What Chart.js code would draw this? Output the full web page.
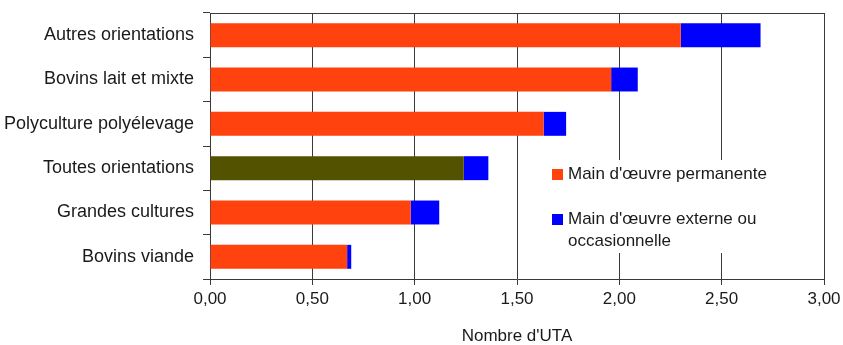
<!DOCTYPE html>
<html>
<head>
<meta charset="utf-8">
<script src="https://cdn.jsdelivr.net/npm/chart.js@4/dist/chart.umd.min.js"></script>
<style>
html,body{margin:0;padding:0;background:#fff;}
#wrap{width:843px;height:345px;}
</style>
</head>
<body>
<div id="wrap"><canvas id="c" width="843" height="345"></canvas></div>
<script>
const categories = ["Autres orientations", "Bovins lait et mixte", "Polyculture polyélevage", "Toutes orientations", "Grandes cultures", "Bovins viande"];
const permanente = [2.30, 1.96, 1.63, 1.24, 0.98, 0.67];
const externe = [0.39, 0.13, 0.11, 0.12, 0.14, 0.02];
const xTicks = [0, 0.5, 1, 1.5, 2, 2.5, 3];
const seriesNames = ["Main d'œuvre permanente", ["Main d'œuvre externe ou", "occasionnelle"]];

const ORANGE = '#ff420e', BLUE = '#0000ff', OLIVE = '#525200', GRID = '#3a3a3a';
const FONT = "'Liberation Sans', Arial, sans-serif";

const frameLegend = {
  id: 'frameLegend',
  beforeDatasetsDraw(chart) {
    const {ctx, chartArea: a} = chart;
    ctx.save();
    ctx.strokeStyle = GRID; ctx.lineWidth = 1;
    ctx.beginPath();
    ctx.moveTo(Math.round(a.left), Math.round(a.top) + 0.5);
    ctx.lineTo(Math.round(a.right) + 1, Math.round(a.top) + 0.5);
    ctx.stroke();
    ctx.restore();
  },
  afterDraw(chart) {
    const {ctx} = chart;
    ctx.save();
    ctx.fillStyle = '#fff';
    ctx.fillRect(546, 160, 240, 93);
    ctx.font = "17px " + FONT;
    ctx.textBaseline = 'middle';
    ctx.textAlign = 'left';
    const items = [
      {color: ORANGE, lines: [seriesNames[0]].flat(), y: 174},
      {color: BLUE, lines: [seriesNames[1]].flat(), y: 219}
    ];
    items.forEach(it => {
      ctx.fillStyle = it.color;
      ctx.fillRect(552, it.y - 5, 11, 11);
      ctx.fillStyle = '#1a1a1a';
      it.lines.forEach((l, i) => ctx.fillText(l, 568, it.y + i * 22));
    });
    ctx.restore();
  }
};

new Chart(document.getElementById('c'), {
  type: 'bar',
  data: {
    labels: categories,
    datasets: [
      {label: [seriesNames[0]].flat().join(' '), data: permanente,
       backgroundColor: categories.map(c => c === 'Toutes orientations' ? OLIVE : ORANGE),
       barPercentage: 0.54, categoryPercentage: 1},
      {label: [seriesNames[1]].flat().join(' '), data: externe, backgroundColor: BLUE,
       barPercentage: 0.54, categoryPercentage: 1}
    ]
  },
  options: {
    indexAxis: 'y',
    responsive: false,
    animation: false,
    devicePixelRatio: 1,
    layout: {padding: {left: 0, right: 19, top: 13, bottom: 0}},
    plugins: {legend: {display: false}, tooltip: {enabled: false}},
    scales: {
      x: {
        stacked: true, min: 0, max: 3,
        afterBuildTicks(s) { s.ticks = xTicks.map(v => ({value: v})); },
        afterFit(s) { s.height = 66; s.paddingLeft = 0; s.paddingRight = 0; },
        grid: {color: GRID, tickLength: 6, drawTicks: true},
        border: {color: GRID},
        ticks: {color: '#1a1a1a', padding: 4, font: {family: FONT, size: 17},
                callback: v => Number(v).toFixed(2).replace('.', ',')},
        title: {display: true, text: "Nombre d'UTA", color: '#1a1a1a',
                font: {family: FONT, size: 17, lineHeight: 1}, padding: {top: 0, bottom: 0}}
      },
      y: {
        stacked: true,
        afterFit(s) { s.width = 210; s.paddingTop = 0; s.paddingBottom = 0; },
        grid: {drawOnChartArea: false, drawTicks: true, tickLength: 7, color: GRID},
        border: {color: GRID},
        ticks: {color: '#1a1a1a', padding: 9, font: {family: FONT, size: 18}}
      }
    }
  },
  plugins: [frameLegend]
});
</script>
</body>
</html>
